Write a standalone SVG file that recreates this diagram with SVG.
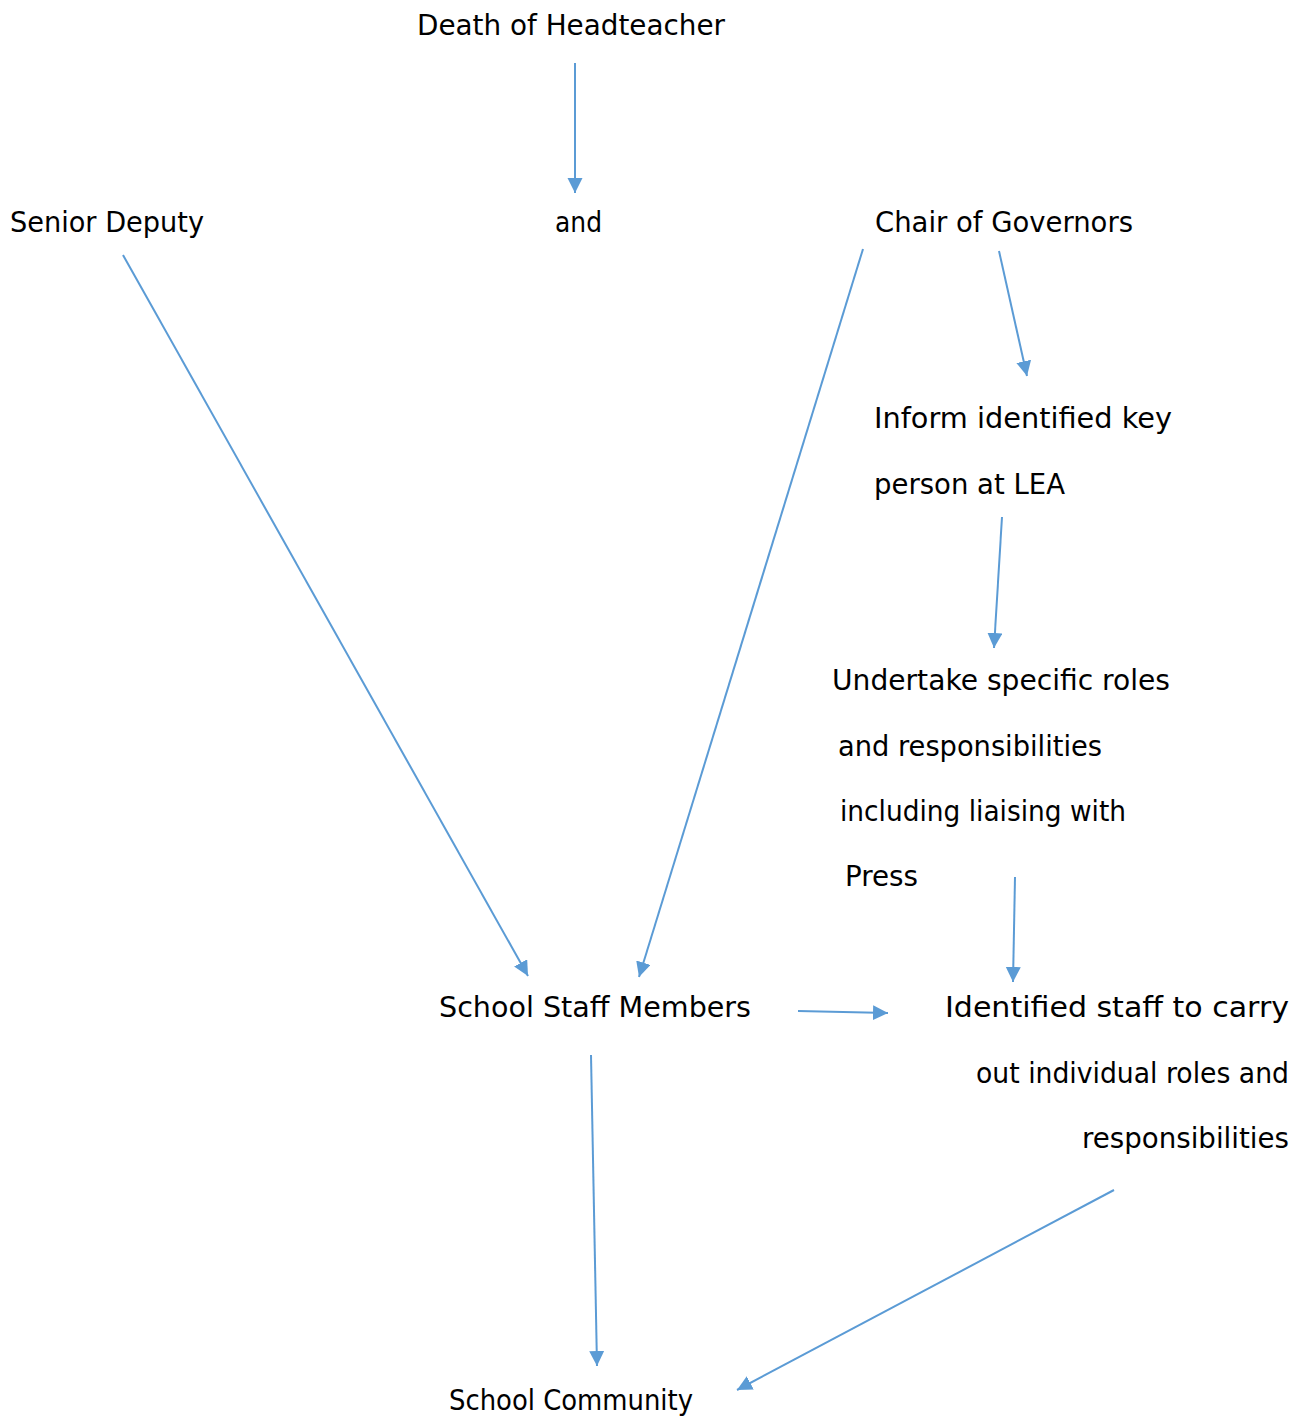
<svg xmlns="http://www.w3.org/2000/svg" width="1313" height="1418" viewBox="0 0 1313 1418">
<style>
text{font-family:"DejaVu Sans","Liberation Sans",sans-serif;font-size:28px;fill:#000}
.c line{stroke:#5b9bd5;stroke-width:2;fill:none}
</style>
<defs>
<marker id="ah" markerUnits="userSpaceOnUse" markerWidth="16" markerHeight="16" refX="15" refY="7.5" orient="auto">
<path d="M0,0 L15,7.5 L0,15 Z" fill="#5b9bd5"/>
</marker>
</defs>
<rect width="1313" height="1418" fill="#fff"/>
<g id="n-death"><text x="417" y="35" textLength="308" lengthAdjust="spacingAndGlyphs">Death of Headteacher</text></g>
<g id="n-senior"><text x="10" y="232" textLength="194" lengthAdjust="spacingAndGlyphs">Senior Deputy</text></g>
<g id="n-and"><text x="555" y="232" textLength="47" lengthAdjust="spacingAndGlyphs">and</text></g>
<g id="n-chair"><text x="875" y="232" textLength="258" lengthAdjust="spacingAndGlyphs">Chair of Governors</text></g>
<g id="n-inform">
<text x="874" y="428" textLength="298" lengthAdjust="spacingAndGlyphs">Inform identified key</text>
<text x="874" y="494" textLength="191" lengthAdjust="spacingAndGlyphs">person at LEA</text>
</g>
<g id="n-undertake">
<text x="832" y="690" textLength="338" lengthAdjust="spacingAndGlyphs">Undertake specific roles</text>
<text x="838" y="756" textLength="264" lengthAdjust="spacingAndGlyphs">and responsibilities</text>
<text x="840" y="821" textLength="286" lengthAdjust="spacingAndGlyphs">including liaising with</text>
<text x="845" y="886" textLength="73" lengthAdjust="spacingAndGlyphs">Press</text>
</g>
<g id="n-staff"><text x="439" y="1017" textLength="312" lengthAdjust="spacingAndGlyphs">School Staff Members</text></g>
<g id="n-identified">
<text x="945" y="1017" textLength="344" lengthAdjust="spacingAndGlyphs">Identified staff to carry</text>
<text x="976" y="1083" textLength="313" lengthAdjust="spacingAndGlyphs">out individual roles and</text>
<text x="1082" y="1148" textLength="207" lengthAdjust="spacingAndGlyphs">responsibilities</text>
</g>
<g id="n-community"><text x="449" y="1410" textLength="244" lengthAdjust="spacingAndGlyphs">School Community</text></g>
<g class="c" id="connectors">
<line x1="575" y1="63" x2="575" y2="193" marker-end="url(#ah)"/>
<line x1="123" y1="255" x2="528" y2="976" marker-end="url(#ah)"/>
<line x1="863" y1="249" x2="639" y2="977" marker-end="url(#ah)"/>
<line x1="999" y1="251" x2="1027" y2="376" marker-end="url(#ah)"/>
<line x1="1002" y1="517" x2="994" y2="648" marker-end="url(#ah)"/>
<line x1="1015" y1="877" x2="1013" y2="982" marker-end="url(#ah)"/>
<line x1="798" y1="1011" x2="888" y2="1013" marker-end="url(#ah)"/>
<line x1="591" y1="1055" x2="597" y2="1366" marker-end="url(#ah)"/>
<line x1="1114" y1="1190" x2="737" y2="1390" marker-end="url(#ah)"/>
</g>
</svg>
